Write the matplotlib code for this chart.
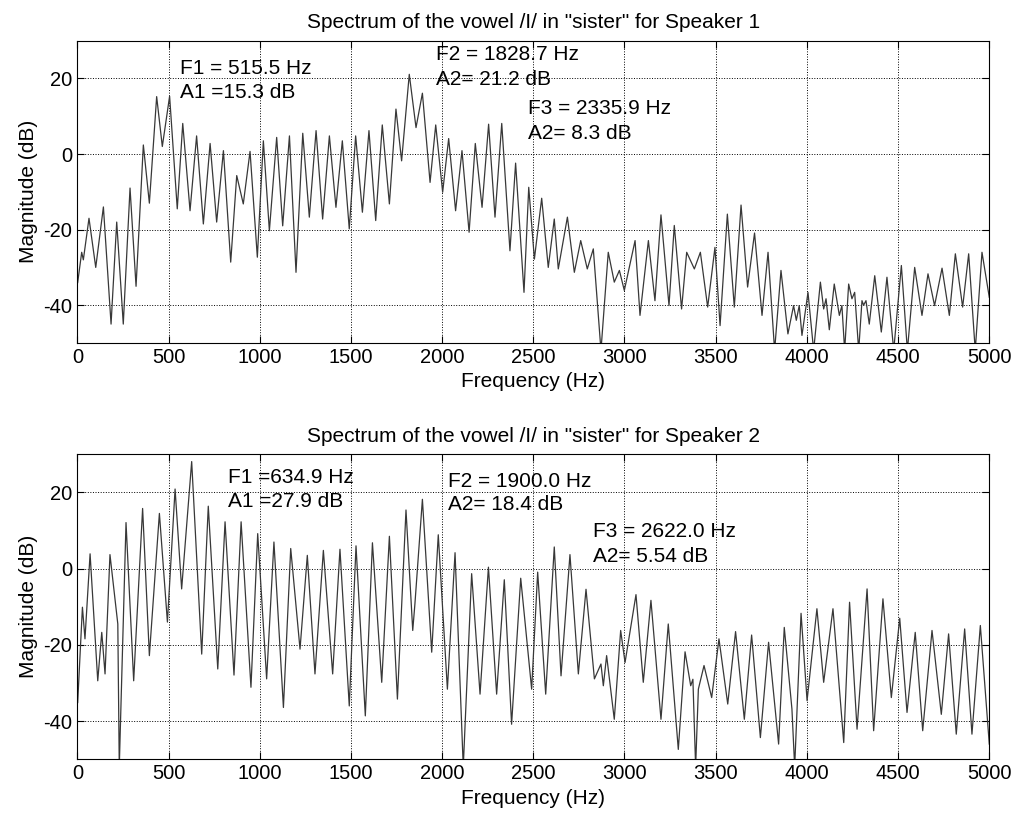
import matplotlib
matplotlib.use('Agg')
from matplotlib import pyplot as plt

# speaker 1 spectrum, peaks and dips (Hz, dB)
freq1 = [2, 24, 33, 64, 101, 143, 185, 216, 252, 289, 322, 362, 395, 435, 466, 506,
	548, 578, 618, 654, 691, 728, 764, 801, 841, 874, 910, 947, 987, 1020, 1053, 1093,
	1126, 1163, 1199, 1236, 1272, 1309, 1345, 1382, 1418, 1453, 1491, 1526, 1563, 1599,
	1636, 1672, 1711, 1747, 1778, 1820, 1857, 1892, 1934, 1965, 2003, 2036, 2074, 2109,
	2148, 2182, 2219, 2255, 2290, 2327, 2372, 2403, 2449, 2475, 2506, 2546, 2582, 2615,
	2637, 2687, 2725, 2760, 2796, 2829, 2871, 2911, 2944, 2972, 2999, 3058, 3085, 3131,
	3167, 3200, 3244, 3273, 3313, 3341, 3383, 3416, 3456, 3496, 3524, 3564, 3602, 3639,
	3675, 3713, 3754, 3787, 3823, 3858, 3896, 3927, 3942, 3958, 3973, 4006, 4037, 4074,
	4092, 4105, 4123, 4150, 4178, 4192, 4207, 4229, 4247, 4262, 4284, 4302, 4311, 4324,
	4342, 4372, 4408, 4439, 4476, 4518, 4551, 4591, 4631, 4664, 4700, 4741, 4781, 4814,
	4854, 4887, 4923, 4960, 5000]
mag1 = [-34, -26, -28, -17, -30, -14, -45, -18, -45, -9, -35, 2.4, -13, 15.2, 2, 15.3,
	-14.5, 8.1, -15, 4.8, -18.5, 2.8, -18, 0.9, -28.6, -5.7, -13.2, 0.7, -27.3, 3.5, -20.3, 4.4,
	-19, 4.8, -31.3, 5.5, -16.7, 6.2, -17.2, 4.8, -14.1, 3.5, -19.8, 4.8, -15.4, 6.2,
	-17.6, 7.7, -13.2, 11.9, -1.8, 21.1, 7.0, 16.1, -7.5, 7.7, -10.1, 4.1, -15.0, 0.9,
	-20.7, 2.8, -14.1, 7.9, -16.7, 8.1, -25.6, -2.4, -36.6, -8.8, -27.8, -11.7, -30, -17.2,
	-30.4, -16.7, -31.3, -22.9, -30.4, -25.1, -52, -26, -33.9, -30.8, -36.1, -22.9, -42.7, -22.9,
	-38.8, -16.1, -40.1, -18.9, -41, -26, -30.4, -26, -40.5, -24.7, -45.4, -15.9, -40.5, -13.5,
	-35.2, -20.9, -42.7, -26, -52, -30.8, -47.6, -40.1, -44, -40.1, -48, -36.6, -52, -33.9,
	-41, -38.3, -46.5, -34.4, -42.7, -40.1, -52, -34.4, -38.3, -36.6, -52, -38.8, -40, -38.8,
	-45, -32.2, -47.1, -32.6, -52, -29.5, -52, -30, -42.7, -31.7, -40.1, -30.2, -42.7, -26.4,
	-40.5, -26.4, -52, -26, -37.9]

# speaker 2 spectrum
freq2 = [2, 28, 42, 70, 112, 134, 152, 179, 222, 230, 267, 309, 358, 395, 450, 494,
	536, 572, 627, 682, 718, 770, 810, 859, 898, 952, 989, 1038, 1078, 1130, 1170, 1221,
	1261, 1303, 1349, 1400, 1440, 1491, 1528, 1579, 1618, 1669, 1711, 1755, 1802, 1839,
	1851, 1892, 1943, 1979, 2029, 2071, 2116, 2162, 2208, 2254, 2299, 2341, 2381, 2431,
	2491, 2524, 2568, 2615, 2652, 2701, 2747, 2789, 2835, 2871, 2884, 2902, 2944, 2979,
	3003, 3063, 3103, 3145, 3200, 3240, 3295, 3332, 3363, 3375, 3390, 3405, 3436, 3478,
	3518, 3566, 3609, 3657, 3697, 3745, 3790, 3845, 3876, 3918, 3933, 3968, 4001, 4055,
	4092, 4143, 4202, 4234, 4275, 4330, 4366, 4417, 4463, 4509, 4549, 4594, 4635, 4686,
	4737, 4777, 4819, 4865, 4905, 4951, 5000]
mag2 = [-35.1, -10.1, -18.4, 3.9, -29.4, -16.7, -27.6, 3.7, -14.5, -52, 12.1, -29.4, 15.8, -22.8, 14.5, -14,
	20.9, -5.3, 28.1, -22.4, 16.4, -26.3, 12.3, -27.9, 12.3, -31.1, 9.2, -28.9, 7.0, -36.4, 5.3, -21.1,
	3.5, -27.6, 4.8, -27.6, 5.1, -36, 6.0, -38.6, 6.8, -29.8, 8.5, -34.2, 15.4, -16.2,
	-9.2, 18.2, -21.9, 8.9, -31.6, 4.2, -52, -1.3, -32.9, 0.4, -32.9, -2.9, -40.8, -2.5,
	-31.6, -0.9, -32.9, 5.7, -28.1, 3.7, -27.6, -5.4, -28.9, -25, -30.7, -22.8, -39.5, -16.2,
	-24.6, -6.8, -29.8, -8.3, -39.5, -14.5, -47.4, -21.8, -30.7, -29, -52, -31.6, -25.4, -33.8,
	-18.4, -35.5, -16.5, -39.5, -17.4, -44.3, -19.3, -46, -15.4, -36.8, -52, -11.7, -34.6, -10.5,
	-29.8, -10.5, -45.6, -8.8, -42.1, -5.3, -42.5, -7.9, -33.8, -13, -37.7, -16.7, -42.5, -16.2,
	-38.2, -17.1, -43.4, -15.8, -43.4, -14.9, -46]

titles = ['Spectrum of the vowel /I/ in "sister" for Speaker 1',
	'Spectrum of the vowel /I/ in "sister" for Speaker 2']

# formant labels: (x Hz, y dB, text)
notes1 = [(563, 21.3, 'F1 = 515.5 Hz'), (563, 14.7, 'A1 =15.3 dB'),
	(1967, 25.0, 'F2 = 1828.7 Hz'), (1967, 18.4, 'A2= 21.2 dB'),
	(2473, 10.5, 'F3 = 2335.9 Hz'), (2473, 4.1, 'A2= 8.3 dB')]
notes2 = [(824, 22.4, 'F1 =634.9 Hz'), (824, 16.1, 'A1 =27.9 dB'),
	(2034, 21.5, 'F2 = 1900.0 Hz'), (2034, 15.4, 'A2= 18.4 dB'),
	(2829, 8.4, 'F3 = 2622.0 Hz'), (2829, 1.8, 'A2= 5.54 dB')]

xticks = [0, 500, 1000, 1500, 2000, 2500, 3000, 3500, 4000, 4500, 5000]
yticks = [-40, -20, 0, 20]


def main():
	plt.rcParams['font.family'] = ['Liberation Sans', 'DejaVu Sans']
	plt.rcParams['axes.unicode_minus'] = False  # plain hyphen like the original
	fig = plt.figure(figsize=(10.16, 8.17), dpi=100)
	ax1 = fig.add_axes([0.0761, 0.5802, 0.8976, 0.3700])
	ax2 = fig.add_axes([0.0761, 0.0706, 0.8976, 0.3733])

	for ax, f, m, title, notes in [(ax1, freq1, mag1, titles[0], notes1),
			(ax2, freq2, mag2, titles[1], notes2)]:
		ax.plot(f, m, color='#383838', linewidth=0.9)
		ax.set_xlim(0, 5000)
		ax.set_ylim(-50, 30)
		ax.set_xticks(xticks)
		ax.set_yticks(yticks)
		ax.grid(True, color='black', linestyle=':', linewidth=0.7)
		ax.tick_params(direction='in', length=5, top=True, right=True, labelsize=14.5, width=0.8)
		for s in ax.spines.values():
			s.set_linewidth(0.8)
		ax.set_xlabel('Frequency (Hz)', fontsize=15, labelpad=4)
		ax.set_ylabel('Magnitude (dB)', fontsize=15)
		ax.set_title(title, fontsize=15, pad=9)
		for x, y, t in notes:
			ax.text(x, y, t, fontsize=15, va='baseline', ha='left')

	fig.savefig('out.png', dpi=100)

main()
